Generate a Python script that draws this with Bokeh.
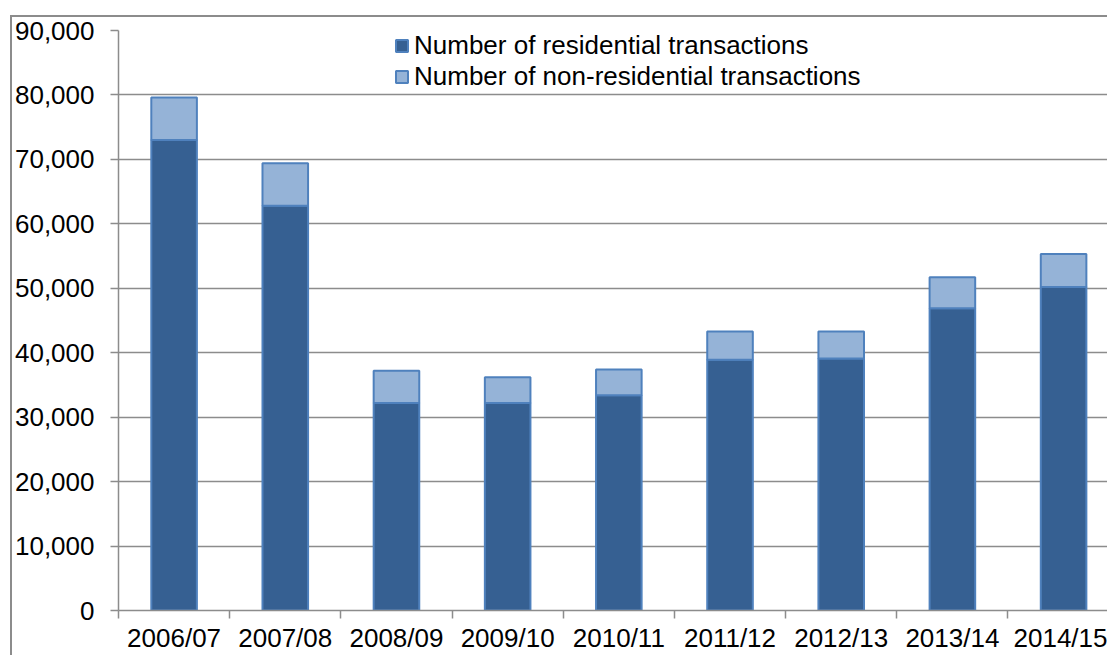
from bokeh.plotting import figure
from bokeh.models import ColumnDataSource, Range1d, FixedTicker, NumeralTickFormatter, Legend, LegendItem
from bokeh.embed import file_html
from bokeh.resources import INLINE

years = ["2006/07", "2007/08", "2008/09", "2009/10", "2010/11", "2011/12", "2012/13", "2013/14", "2014/15"]
residential = [73000, 62800, 32200, 32200, 33400, 38900, 39100, 46900, 50200]
non_residential = [6600, 6600, 5000, 4000, 4000, 4400, 4200, 4800, 5100]

res_name = "Number of residential transactions"
nonres_name = "Number of non-residential transactions"

xpos = [i + 0.5 for i in range(len(years))]
totals = [r + n for r, n in zip(residential, non_residential)]
src = ColumnDataSource(dict(x=xpos, res=residential, tot=totals, zero=[0] * len(years)))

FONT = "Liberation Sans"
GRID = "#8c8c8c"

p = figure(width=1107, height=655, output_backend="svg", toolbar_location=None,
           x_range=Range1d(0, 8.895), y_range=Range1d(0, 90000),
           min_border_left=118, min_border_top=30, min_border_right=0, min_border_bottom=45)
p.border_fill_color = None
p.background_fill_color = "white"
p.outline_line_color = None
p.styles = {
    "background": ("linear-gradient(#8c8c8c, #8c8c8c) 10px 15px / 2px 100% no-repeat, "
                   "linear-gradient(#8c8c8c, #8c8c8c) 10px 15px / 100% 2px no-repeat, white"),
}

r1 = p.vbar(x="x", bottom="zero", top="res", width=0.41, source=src,
            fill_color="#366092", line_color="#4F81BD", line_width=2)
r2 = p.vbar(x="x", bottom="res", top="tot", width=0.41, source=src,
            fill_color="#95B3D7", line_color="#4F81BD", line_width=2)

# x axis
xa = p.xaxis[0]
xa.ticker = FixedTicker(ticks=xpos, minor_ticks=list(range(len(years) + 1)))
xa.major_label_overrides = {x: y for x, y in zip(xpos, years)}
xa.major_tick_line_color = None
xa.major_tick_out = 0
xa.major_tick_in = 0
xa.minor_tick_line_color = GRID
xa.minor_tick_line_width = 1.5
xa.minor_tick_out = 8
xa.minor_tick_in = 0
xa.axis_line_color = GRID
xa.axis_line_width = 1.5
xa.major_label_standoff = 4
xa.major_label_text_font = FONT
xa.major_label_text_font_size = "26px"
xa.major_label_text_color = "black"

# y axis
ya = p.yaxis[0]
ya.ticker = FixedTicker(ticks=list(range(0, 90001, 10000)))
ya.formatter = NumeralTickFormatter(format="0,0")
ya.major_tick_line_color = GRID
ya.major_tick_line_width = 1.5
ya.major_tick_out = 8
ya.major_tick_in = 0
ya.minor_tick_line_color = None
ya.axis_line_color = GRID
ya.axis_line_width = 1.5
ya.major_label_standoff = 16
ya.major_label_text_font = FONT
ya.major_label_text_font_size = "26px"
ya.major_label_text_color = "black"

p.xgrid.grid_line_color = None
p.ygrid.grid_line_color = GRID
p.ygrid.grid_line_width = 1.5
p.ygrid.ticker = FixedTicker(ticks=list(range(10000, 90001, 10000)))

legend = Legend(items=[LegendItem(label=res_name, renderers=[r1]),
                       LegendItem(label=nonres_name, renderers=[r2])],
                location=(276, 518), orientation="vertical")
legend.margin = 0
legend.padding = 0
legend.spacing = 0
legend.glyph_width = 15
legend.glyph_height = 15
legend.label_height = 30
legend.label_standoff = 5
legend.label_text_font = FONT
legend.label_text_font_size = "26px"
legend.label_text_color = "black"
legend.border_line_color = None
legend.background_fill_color = "white"
legend.background_fill_alpha = 1.0
p.add_layout(legend, "center")

open("out.html", "w").write(file_html(p, INLINE))
